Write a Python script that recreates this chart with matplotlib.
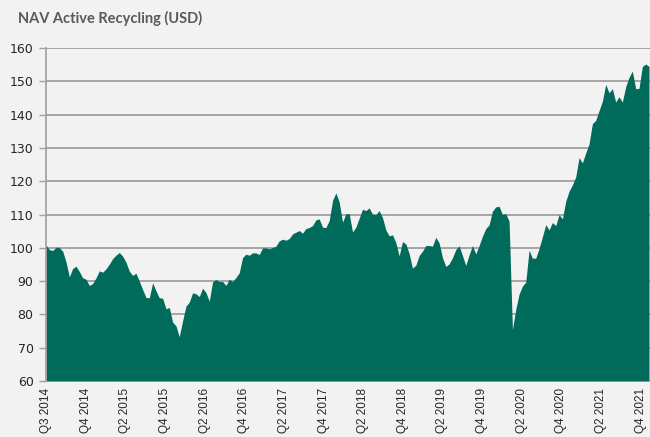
import matplotlib
matplotlib.use("Agg")
import matplotlib.pyplot as plt
import numpy as np

# NAV values, roughly one per 1/12 of a label interval
nav_values = [
    100.9, 99.5, 99.2, 100.2, 100.1, 99.0, 95.8, 91.3, 93.8, 94.5,
    92.9, 91.0, 90.6, 88.7, 89.3, 91.0, 93.1, 92.7, 93.7, 95.1,
    96.8, 97.8, 98.6, 97.5, 95.7, 93.0, 91.7, 92.4, 90.0, 87.5,
    85.1, 85.0,
    89.5, 87.1, 85.0, 84.9, 81.7, 82.1, 77.7, 76.6, 73.3, 78.1,
    82.5, 83.7, 86.5, 86.2, 85.4, 87.9, 86.6, 84.0, 89.8, 90.5,
    89.9, 89.9, 88.7, 90.6, 89.9, 91.1, 92.5, 97.1, 98.1, 97.8,
    98.5, 98.5, 98.0, 100.0, 100.0, 99.7, 100.1, 100.5, 102.1, 102.6,
    102.3, 102.8, 104.2, 104.7, 105.2, 104.4, 105.8, 106.1, 106.7, 108.4,
    108.7, 106.2, 106.1, 108.2, 114.2, 116.5, 113.8, 107.7, 110.2, 110.3,
    104.8, 106.2, 108.9, 111.6, 111.2, 112.0, 110.1, 110.0, 111.2, 109.1,
    105.4, 103.6, 103.9, 101.6, 97.6, 101.9, 101.2, 98.3, 93.9, 94.8,
    97.7, 99.0, 100.7, 100.7, 100.5, 103.2, 101.5, 97.1, 94.4, 95.2,
    97.0, 99.5, 100.6, 97.7, 94.7, 97.9, 100.7, 98.2, 100.7, 103.5,
    105.8, 106.9, 111.0, 112.3, 112.5, 110.0, 110.3, 108.0, 75.5, 81.5,
    86.1, 88.5, 89.7, 99.3, 96.9, 96.9, 99.8, 103.3, 107.0, 105.4,
    107.6, 106.7, 110.0, 108.7, 114.0, 117.0, 118.9, 121.3, 127.1, 125.5,
    128.5, 131.2, 137.3, 138.3, 141.2, 144.0, 149.1, 146.6, 147.8, 143.8,
    145.4, 143.8, 148.4, 151.2, 153.1, 147.8, 147.9, 154.5, 155.2, 154.5,
]

tick_labels = [
    "Q3 2014", "Q4 2014", "Q2 2015", "Q4 2015", "Q2 2016", "Q4 2016",
    "Q2 2017", "Q4 2017", "Q2 2018", "Q4 2018", "Q2 2019", "Q4 2019",
    "Q2 2020", "Q4 2020", "Q2 2021", "Q4 2021",
]

y_ticks = [60, 70, 80, 90, 100, 110, 120, 130, 140, 150, 160]

bg = "#f2f2f2"
fill_color = "#006b5a"

x = np.arange(len(nav_values))
pts_per_label = 11.9

fig = plt.figure(figsize=(6.5, 4.37), dpi=100, facecolor=bg)
ax = fig.add_axes([0.0708, 0.128, 0.9292, 0.762])
ax.set_facecolor(bg)

ax.fill_between(x, 60, nav_values, color=fill_color, linewidth=0)

ax.set_ylim(60, 160)
ax.set_xlim(0, len(nav_values) - 0.7)
ax.set_yticks(y_ticks)
ax.set_axisbelow(True)
ax.grid(axis="y", color="#a0a0a0", linewidth=1.3)

ax.set_xticks(np.arange(len(tick_labels)) * pts_per_label)
ax.set_xticklabels(tick_labels, rotation=90, fontsize=8.5,
                   family="Liberation Sans", color="#262626")
ax.tick_params(axis="x", length=0, pad=5)
ax.tick_params(axis="y", length=5, width=1, color="#a0a0a0", labelsize=9,
               labelcolor="#262626", pad=4)

for side in ["top", "right", "bottom"]:
    ax.spines[side].set_visible(False)
ax.spines["left"].set_color("#a0a0a0")
ax.spines["left"].set_linewidth(1.2)

fig.text(0.028, 0.958, "NAV Active Recycling (USD)", fontsize=10.5,
         fontweight="bold", color="#595959", family="Lato", va="center")

fig.savefig("out.png", dpi=100, facecolor=bg)
